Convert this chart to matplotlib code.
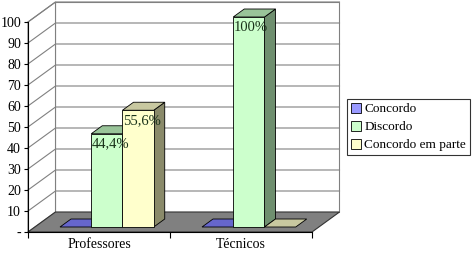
import matplotlib
matplotlib.use("Agg")
import matplotlib.pyplot as plt
from matplotlib.patches import Polygon, Patch

# ---- data ----
categories = ['Professores', 'Técnicos']
series_names = ['Concordo', 'Discordo', 'Concordo em parte']
concordo = [0, 0]
discordo = [44.4, 100]
concordo_parte = [55.6, 0]
label_discordo = ['44,4%', '100%']
label_parte = ['55,6%', '']
label_concordo = ['', '']
yticks = [0, 10, 20, 30, 40, 50, 60, 70, 80, 90, 100]
ytick_labels = ['-', '10', '20', '30', '40', '50', '60', '70', '80', '90', '100']

series_vals = [concordo, discordo, concordo_parte]
series_labels = [label_concordo, label_discordo, label_parte]
front_cols = ['#9999ff', '#ccffcc', '#ffffcc']
top_cols = ['#6666cc', '#99c499', '#c8c8a0']
side_cols = ['#4c4c99', '#6f8f6f', '#8a8a6a']

FONT = 'Liberation Serif'
W, H = 472, 257
fig = plt.figure(figsize=(W / 100, H / 100), dpi=100)
ax_l, ax_b, ax_w, ax_h = 28 / W, 25 / H, 284 / W, 210 / H
ax = fig.add_axes([ax_l, ax_b, ax_w, ax_h])
ax.set_xlim(0, 2)
ax.set_ylim(0, 100)
ax.patch.set_visible(False)

# pixel -> data conversion for the depth offsets
px_x = (ax_w * W) / 2.0
px_y = (ax_h * H) / 100.0
DX, DY = 27.5 / px_x, 20.0 / px_y


def off(x, y, f):
    return (x + f * DX, y + f * DY)


# back wall
wall = Polygon([off(0, 0, 1), off(2, 0, 1), off(2, 100, 1), off(0, 100, 1)],
               closed=True, facecolor='white', edgecolor='#808080', lw=0.8,
               zorder=0, clip_on=False)
ax.add_patch(wall)
# left wall
lwall = Polygon([off(0, 0, 0), off(0, 0, 1), off(0, 100, 1), off(0, 100, 0)],
                closed=True, facecolor='white', edgecolor='#808080', lw=0.8,
                zorder=0, clip_on=False)
ax.add_patch(lwall)
for t in yticks[1:]:
    p0, p1, p2 = off(0, t, 0), off(0, t, 1), off(2, t, 1)
    ax.plot([p0[0], p1[0], p2[0]], [p0[1], p1[1], p2[1]], color='#808080',
            lw=0.8, zorder=1, clip_on=False)

# floor
floor = Polygon([off(0, 0, 0), off(2, 0, 0), off(2, 0, 1), off(0, 0, 1)],
                closed=True, facecolor='#808080', edgecolor='#333333', lw=0.8,
                zorder=2, clip_on=False)
ax.add_patch(floor)

# bars
bw = 0.22
f0, f1 = 0.25, 0.65
z = 3
for ci in range(len(categories)):
    for si in range(len(series_names)):
        v = series_vals[si][ci]
        x0 = ci + 0.507 + (si - 1) * bw - bw / 2
        x1 = x0 + bw
        if v > 0:
            side = Polygon([off(x1, 0, f0), off(x1, 0, f1), off(x1, v, f1), off(x1, v, f0)],
                           closed=True, facecolor=side_cols[si], edgecolor='black',
                           lw=0.6, zorder=z, clip_on=False)
            ax.add_patch(side)
        top = Polygon([off(x0, v, f0), off(x1, v, f0), off(x1, v, f1), off(x0, v, f1)],
                      closed=True, facecolor=top_cols[si], edgecolor='black',
                      lw=0.6, zorder=z, clip_on=False)
        ax.add_patch(top)
        if v > 0:
            fx, fy = off(x0, 0, f0)
            ax.bar(fx, v, width=bw, bottom=fy, align='edge', color=front_cols[si],
                   edgecolor='black', lw=0.6, zorder=z, clip_on=False)
        z += 1
        lab = series_labels[si][ci]
        if lab:
            tx, ty = off(x0, v, f0)
            ax.text(tx + 0.003, ty - 4.8, lab, ha='left', va='center',
                    fontsize=10.5, family=FONT, color='#1a331a', zorder=50)

# axes
for s in ['top', 'right']:
    ax.spines[s].set_visible(False)
ax.spines['left'].set_color('black')
ax.spines['bottom'].set_color('black')
ax.spines['left'].set_linewidth(0.8)
ax.spines['bottom'].set_linewidth(0.8)
ax.spines['left'].set_zorder(40)
ax.spines['bottom'].set_zorder(40)
ax.set_yticks(yticks)
ax.set_yticklabels(ytick_labels, family=FONT, fontsize=10)
ax.tick_params(axis='y', direction='out', length=3, width=0.8, pad=2)
ax.set_xticks([0, 1, 2])
ax.set_xticklabels(['', '', ''])
ax.tick_params(axis='x', which='major', direction='out', length=4, width=0.8)
ax.set_xticks([0.5, 1.5], minor=True)
ax.set_xticklabels(categories, minor=True, family=FONT, fontsize=10)
ax.tick_params(axis='x', which='minor', length=0, pad=4)

# legend
handles = [Patch(facecolor=front_cols[i], edgecolor='black', lw=0.6) for i in range(3)]
leg = fig.legend(handles, series_names, loc='upper left',
                 bbox_to_anchor=(347 / W, 1 - 99 / H), frameon=True, fancybox=False,
                 prop={'family': FONT, 'size': 9.5}, handlelength=0.75,
                 handleheight=0.75, handletextpad=0.25, labelspacing=0.42,
                 borderpad=0.3, borderaxespad=0)
leg.get_frame().set_edgecolor('black')
leg.get_frame().set_linewidth(0.8)

fig.savefig('out.png', dpi=100)
